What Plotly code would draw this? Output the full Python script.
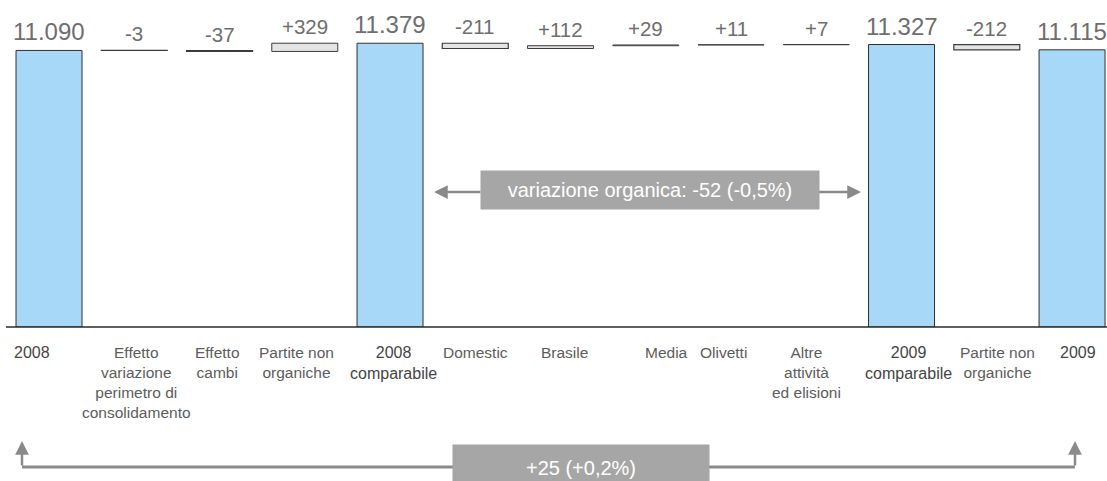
import plotly.graph_objects as go

# Ricavi di gruppo: ponte 2008 -> 2009 (milioni di euro)
categories = [
    "2008",
    "Effetto<br>variazione<br>perimetro di<br>consolidamento",
    "Effetto<br>cambi",
    "Partite non<br>organiche",
    "2008<br>comparabile",
    "Domestic",
    "Brasile",
    "Media",
    "Olivetti",
    "Altre<br>attività<br>ed elisioni",
    "2009<br>comparabile",
    "Partite non<br>organiche ",
    "2009 ",
]
values = [11090, -3, -37, 329, 11379, -211, 112, 29, 11, 7, 11327, -212, 11115]
measures = ["absolute", "relative", "relative", "relative", "absolute",
            "relative", "relative", "relative", "relative", "relative",
            "absolute", "relative", "absolute"]
organic_label = "variazione organica: -52 (-0,5%)"
total_label = "+25 (+0,2%)"

# layout geometry (pixels)
W, H = 1107, 481
PLOT_BOTTOM = 327           # pixel row of the baseline
X_MIN, X_MAX = -0.575, 12.41
BAR_W = 0.774
FONT = "Liberation Sans, Arial, sans-serif"


def px_x(px):
    return px / W


def px_y(py):
    return (PLOT_BOTTOM - py) / PLOT_BOTTOM


def fmt(v, m):
    if m == "absolute":
        return f"{v:,}".replace(",", ".")
    return f"{v:+d}"


fig = go.Figure()
fig.add_trace(go.Waterfall(
    x=categories,
    y=values,
    measure=measures,
    width=BAR_W,
    connector=dict(visible=False),
    totals=dict(marker=dict(color="#a8d8f8", line=dict(color="#2f2f2f", width=1))),
    increasing=dict(marker=dict(color="#e4e4e4", line=dict(color="#3c3c3c", width=1))),
    decreasing=dict(marker=dict(color="#e4e4e4", line=dict(color="#3c3c3c", width=1.2))),
    hoverinfo="skip",
))

annotations = []

# value labels above each bar
running = 0
for i, (v, m) in enumerate(zip(values, measures)):
    if m == "absolute":
        start, end = 0, v
        running = v
    else:
        start, end = running, running + v
        running = end
    top = max(start, end)
    annotations.append(dict(
        x=i, y=top, xref="x", yref="y", text=fmt(v, m), showarrow=False,
        yanchor="bottom", yshift=3,
        font=dict(family=FONT, size=24 if m == "absolute" else 20.5,
                  color="#6e6e6e"),
    ))

# category labels under the baseline
label_shift = [-17, 2, -2, -8, 3, 0, 4, 21, -8, -10, 7, 11, 6]
for i, cat in enumerate(categories):
    strong = cat.strip() in ("2008", "2009") or "comparabile" in cat
    annotations.append(dict(
        x=i, y=px_y(342), xref="x", yref="paper", text=cat.strip(),
        showarrow=False, yanchor="top", xshift=label_shift[i], align="center",
        font=dict(family=FONT, size=16 if strong else 15.5,
                  color="#444444" if strong else "#5c5c5c"),
    ))

ARROW = "#8a8a8a"


def arrow(tip_x, tip_y, tail_x, tail_y):
    """Arrow whose head sits at (tip_x, tip_y); all coordinates in pixels."""
    return dict(
        x=px_x(tip_x), y=px_y(tip_y), xref="paper", yref="paper",
        ax=tail_x - tip_x, ay=tail_y - tip_y,
        showarrow=True, arrowhead=2, arrowsize=1.1, arrowwidth=2.5,
        arrowcolor=ARROW, text="",
    )


# organic variation bracket between the two comparable totals
annotations.append(arrow(434, 192, 482, 192))
annotations.append(arrow(861, 192, 817, 192))
annotations.append(dict(
    x=px_x(650), y=px_y(190), xref="paper", yref="paper", text=organic_label,
    showarrow=False, bgcolor="#a6a6a6", width=336, height=36,
    xanchor="center", yanchor="middle",
    font=dict(family=FONT, size=20, color="white"),
))

# overall variation bracket under the chart
annotations.append(arrow(22, 441, 22, 467))
annotations.append(arrow(1075, 441, 1075, 467))
annotations.append(dict(
    x=px_x(581), y=px_y(468), xref="paper", yref="paper", text=total_label,
    showarrow=False, bgcolor="#a6a6a6", width=254, height=44,
    xanchor="center", yanchor="middle",
    font=dict(family=FONT, size=20, color="white"),
))

shapes = [
    # baseline
    dict(type="line", xref="paper", yref="paper", x0=px_x(6), x1=1, y0=0, y1=0,
         line=dict(color="#2a2a2a", width=1.5)),
    # bottom bracket horizontal
    dict(type="line", xref="paper", yref="paper", x0=px_x(22), x1=px_x(1075),
         y0=px_y(467), y1=px_y(467), line=dict(color=ARROW, width=3)),
]

fig.update_layout(
    width=W, height=H,
    margin=dict(l=0, r=0, t=0, b=H - PLOT_BOTTOM, pad=0),
    paper_bgcolor="white", plot_bgcolor="white",
    showlegend=False,
    xaxis=dict(range=[X_MIN, X_MAX], showticklabels=False, showgrid=False,
               zeroline=False, showline=False, ticks=""),
    yaxis=dict(range=[0, PLOT_BOTTOM * 40.1], visible=False, showgrid=False,
               zeroline=False),
    annotations=annotations,
    shapes=shapes,
)

fig.write_html("out.html")
